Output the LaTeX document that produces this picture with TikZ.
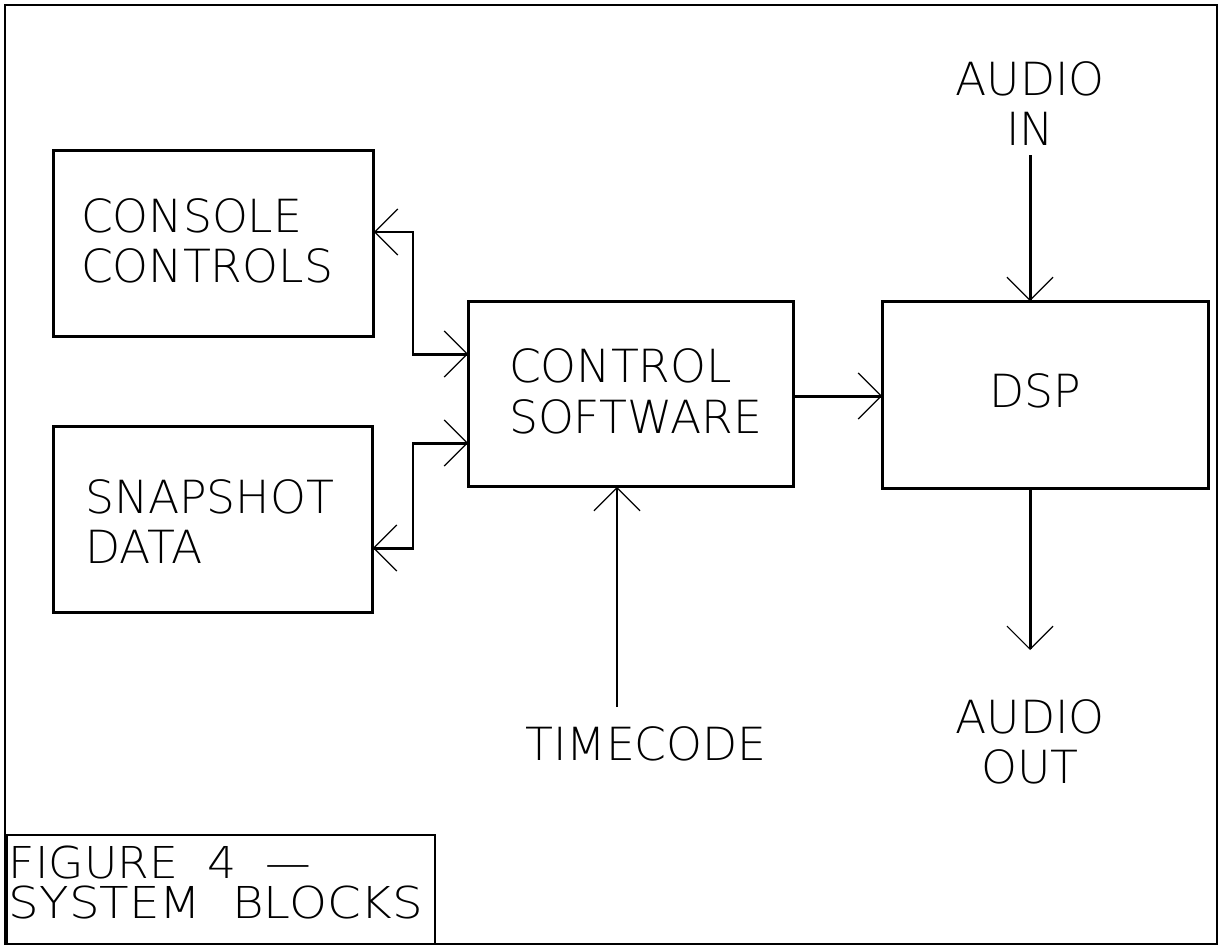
\documentclass[tikz,border=0pt]{standalone}
\usepackage{fontspec}
\setmainfont{DejaVu Sans ExtraLight}
\usetikzlibrary{arrows.meta,calc}
\tikzset{
  blk/.style={draw, line width=1.7pt, rectangle, outer sep=0pt, inner sep=0pt},
  lbl/.style={inner sep=0pt, outer sep=0pt, font=\fontsize{26}{28}\selectfont},
  figlbl/.style={inner sep=0pt, outer sep=0pt, font=\fontsize{25}{27}\selectfont},
  vtip/.tip={Straight Barb[length=0.46cm, width=0.92cm, line width=0.7pt]},
  conn/.style={line width=1.7pt},
}
\begin{document}
\begin{tikzpicture}[x=0.02cm, y=-0.02cm]
\useasboundingbox (0,0) rectangle (1221,947);
% frame
\draw[line width=0.9pt] (5,5) rectangle (1217,944);
% boxes
\node[blk, minimum width=6.42cm, minimum height=3.74cm] (cc) at (213.5,243.5) {};
\node[blk, minimum width=6.40cm, minimum height=3.74cm] (sd) at (213,519.5) {};
\node[blk, minimum width=6.52cm, minimum height=3.72cm] (cs) at (631,394) {};
\node[blk, minimum width=6.54cm, minimum height=3.76cm] (dsp) at (1045.5,395) {};
\node[draw, line width=1.4pt, outer sep=0pt, inner sep=0pt, minimum width=8.56cm, minimum height=2.18cm] (fig) at (221,889.5) {};
% texts
\node[lbl, anchor=base west] (t1) at (81,232) {CONSOLE};
\node[lbl, anchor=base west] (t2) at (81,282) {CONTROLS};
\node[lbl, anchor=base west] (t3) at (85,513) {SNAPSHOT};
\node[lbl, anchor=base west] (t4) at (85,563) {DATA};
\node[lbl, anchor=base west] (t5) at (509,382) {CONTROL};
\node[lbl, anchor=base west] (t6) at (509,433) {SOFTWARE};
\node[lbl, anchor=base] (t7) at (1035,407) {DSP};
\node[lbl, anchor=base] (t8) at (1030,95) {AUDIO};
\node[lbl, anchor=base] (t9) at (1030,145) {IN};
\node[lbl, anchor=base] (t10) at (1030,733) {AUDIO};
\node[lbl, anchor=base] (t11) at (1030,783) {OUT};
\node[lbl, anchor=base] (t12) at (646,760) {TIMECODE};
\node[figlbl, anchor=base west] (f1) at (9,878) {\scalebox{1.04}[1]{FIGURE\ \ 4\ \ —}};
\node[figlbl, anchor=base west] (f2) at (9,918) {\scalebox{1.1}[1]{SYSTEM\ \ BLOCKS}};
% free ends
\coordinate (ain) at (1030,155);
\coordinate (aout) at (1030,650);
\coordinate (tc) at (617,707);
% connectors
\draw[conn, vtip-vtip] (cc.east |- 0,232) -- (413,232) -- (413,354) -- (cs.west |- 0,354);
\draw[conn, vtip-vtip] (cs.west |- 0,443) -- (413,443) -- (413,548) -- (sd.east |- 0,548);
\draw[conn, -vtip] (cs.east |- 0,396) -- (dsp.west |- 0,396);
\draw[conn, -vtip] (ain) -- (ain |- dsp.north);
\draw[conn, -vtip] (aout |- dsp.south) -- (aout);
\draw[conn, -vtip] (tc) -- (tc |- cs.south);
\end{tikzpicture}
\end{document}
